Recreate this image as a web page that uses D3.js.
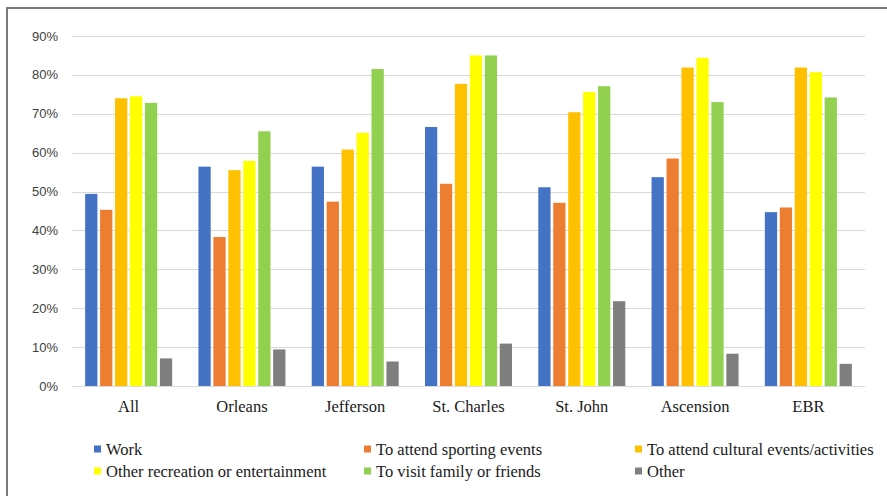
<!DOCTYPE html>
<html><head><meta charset="utf-8">
<script src="https://cdn.jsdelivr.net/npm/d3@7"></script>
<style>html,body{margin:0;padding:0;background:#fff;}svg{display:block;}
.serif{font-family:"Liberation Serif","Times New Roman","DejaVu Serif",serif;}
.sans{font-family:"Liberation Sans",Arial,sans-serif;}
</style>
</head><body>
<svg id="chart" width="887" height="496"></svg>
<script>
const categories = ["All","Orleans","Jefferson","St. Charles","St. John","Ascension","EBR"];
const seriesNames = ["Work","To attend sporting events","To attend cultural events/activities","Other recreation or entertainment","To visit family or friends","Other"];
const seriesColors = ["#4472C4","#ED7D31","#FFC000","#FFFF00","#92D050","#7F7F7F"];
const work      = [49.4, 56.4, 56.4, 66.6, 51.1, 53.7, 44.7];
const sporting  = [45.3, 38.3, 47.4, 52.0, 47.1, 58.5, 45.9];
const cultural  = [74.0, 55.5, 60.8, 77.7, 70.4, 81.9, 81.9];
const recreation= [74.5, 57.9, 65.1, 85.0, 75.6, 84.4, 80.7];
const family    = [72.8, 65.5, 81.5, 85.0, 77.1, 73.0, 74.2];
const other     = [7.1, 9.4, 6.3, 10.9, 21.8, 8.3, 5.7];
const yTicks = [0,10,20,30,40,50,60,70,80,90];
const seriesValues = [work, sporting, cultural, recreation, family, other];

(function(){
const svg = d3.select("#chart");
// frame
svg.append("path").attr("d","M7,496 V8 H887").attr("fill","none").attr("stroke","#7a7a7a").attr("stroke-width",2);

const pLeft = 72, pRight = 865, pTop = 36, pBottom = 386;
const y = d3.scaleLinear().domain([0,90]).range([pBottom, pTop]);
const x0 = d3.scaleBand().domain(categories).range([pLeft, pRight]).paddingInner(0).paddingOuter(0);
const groupW = 87;
const x1 = d3.scaleBand().domain(d3.range(seriesNames.length)).range([0, groupW]).paddingInner(0.18).paddingOuter(0);

// gridlines
svg.append("g").selectAll("line").data(yTicks).join("line")
  .attr("x1", pLeft).attr("x2", pRight)
  .attr("y1", d => Math.round(y(d))+0.5).attr("y2", d => Math.round(y(d))+0.5)
  .attr("stroke", "#d9d9d9").attr("stroke-width", 1);

// y labels
svg.append("g").selectAll("text").data(yTicks).join("text")
  .attr("class","sans")
  .attr("x", 58).attr("y", d => y(d)).attr("dy","0.35em")
  .attr("text-anchor","end")
  .attr("font-size", 13).attr("fill","#404040").text(d => d + "%");

// bars
const groups = svg.append("g").selectAll("g").data(categories).join("g")
  .attr("transform", c => `translate(${x0(c) + (x0.bandwidth()-groupW)/2},0)`);
groups.selectAll("rect").data((c,ci) => seriesValues.map((s,si) => ({si, v: s[ci]}))).join("rect")
  .attr("x", d => x1(d.si)).attr("width", x1.bandwidth())
  .attr("y", d => y(d.v)).attr("height", d => y(0) - y(d.v))
  .attr("fill", d => seriesColors[d.si]);

// category labels
svg.append("g").selectAll("text").data(categories).join("text")
  .attr("class","serif")
  .attr("x", c => x0(c) + x0.bandwidth()/2).attr("y", 406).attr("dy","0.35em")
  .attr("text-anchor","middle")
  .attr("font-size", 16.5).attr("fill","#1a1a1a").text(c => c);

// legend
const legCols = [94, 364, 635], legRows = [449, 471];
const leg = svg.append("g").selectAll("g").data(seriesNames).join("g")
  .attr("transform", (d,i) => `translate(${legCols[i%3]},${legRows[Math.floor(i/3)]})`);
leg.append("rect").attr("x",0).attr("y",-3.5).attr("width",7).attr("height",7).attr("fill",(d,i)=>seriesColors[i]);
leg.append("text").attr("class","serif").attr("x",12).attr("y",0).attr("dy","0.35em")
  .attr("font-size",16.5)
  .attr("fill","#1a1a1a").text(d => d);
})();
</script>
</body></html>
